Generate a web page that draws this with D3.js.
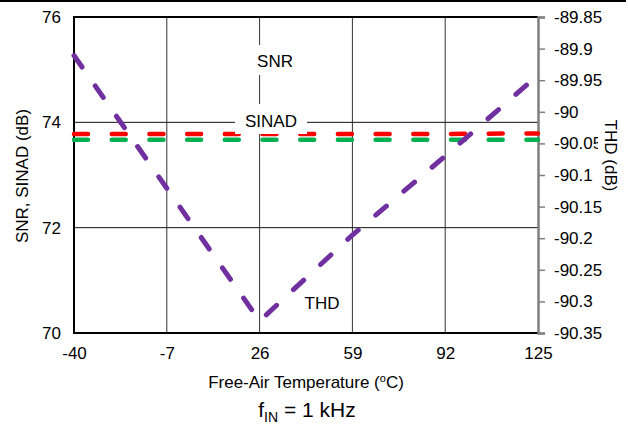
<!DOCTYPE html>
<html><head><meta charset="utf-8">
<script src="https://cdn.jsdelivr.net/npm/d3@7"></script>
<style>body{margin:0;background:#fff}svg{display:block;font-family:"Liberation Sans",Arial,sans-serif}</style>
</head><body><svg id="c" width="628" height="424"></svg>
<script>
const temps = [-40, -7, 26, 59, 92, 125];
const snr = [73.78, 73.78, 73.78, 73.78, 73.78, 73.79];
const sinad = [73.67, 73.67, 73.67, 73.67, 73.67, 73.67];
const thd = [-89.911, -90.121, -90.331, -90.195, -90.07, -89.942];
const leftTicks = [70, 72, 74, 76];
const rightTicks = [-89.85, -89.9, -89.95, -90, -90.05, -90.1, -90.15, -90.2, -90.25, -90.3, -90.35];
const rightTickLabels = ["-89.85","-89.9","-89.95","-90","-90.05","-90.1","-90.15","-90.2","-90.25","-90.3","-90.35"];
const xTickLabels = ["-40", "-7", "26", "59", "92", "125"];

const svg = d3.select("#c");
const FF = "Liberation Sans, Arial, sans-serif";
const L = 74, R = 538, T = 17, B = 333;
const x = d3.scaleLinear().domain([-40, 125]).range([L, R]);
const yL = d3.scaleLinear().domain([70, 76]).range([B, T]);
const yR = d3.scaleLinear().domain([-90.35, -89.85]).range([B, T]);

// top frame line
svg.append("line").attr("x1",0).attr("x2",626).attr("y1",1).attr("y2",1).attr("stroke","#000").attr("stroke-width",2);

// gridlines
const g = svg.append("g");
temps.slice(1,-1).forEach(t => g.append("line").attr("x1",x(t)).attr("x2",x(t)).attr("y1",T).attr("y2",B).attr("stroke","#333").attr("stroke-width",1));
leftTicks.slice(1,-1).forEach(v => g.append("line").attr("x1",L).attr("x2",R).attr("y1",yL(v)).attr("y2",yL(v)).attr("stroke","#111").attr("stroke-width",1));

// SNR label box
svg.append("rect").attr("x",x(26)-10).attr("y",45).attr("width",52).attr("height",30).attr("fill","#fff");
svg.append("text").attr("x",275).attr("y",67).attr("text-anchor","middle").attr("font-size",17).text("SNR");

// axes frame
svg.append("line").attr("x1",L).attr("x2",R).attr("y1",T).attr("y2",T).attr("stroke","#000").attr("stroke-width",2);
svg.append("line").attr("x1",L).attr("x2",R).attr("y1",B).attr("y2",B).attr("stroke","#000").attr("stroke-width",2);
svg.append("line").attr("x1",L).attr("x2",L).attr("y1",T-1).attr("y2",B+1).attr("stroke","#000").attr("stroke-width",2);

// right axis
const rAxis = d3.axisRight(yR).tickValues(rightTicks).tickSize(7).tickFormat((d,i)=>rightTickLabels[i]);
const ra = svg.append("g").attr("transform",`translate(${R},0)`).call(rAxis);
ra.select(".domain").attr("stroke","#7f7f7f").attr("stroke-width",2.5);
ra.selectAll(".tick line").attr("stroke","#7f7f7f").attr("stroke-width",1.5);
ra.selectAll(".tick text").attr("x",16).attr("fill","#000").attr("font-size",17).attr("font-family",FF);

// left axis labels
const lAxis = d3.axisLeft(yL).tickValues(leftTicks).tickSize(0).tickFormat(d=>String(d));
const la = svg.append("g").attr("transform",`translate(${L},0)`).call(lAxis);
la.select(".domain").remove();
la.selectAll(".tick text").attr("x",-13).attr("fill","#000").attr("font-size",17).attr("font-family",FF);

// bottom axis labels
const bAxis = d3.axisBottom(x).tickValues(temps).tickSize(0).tickFormat((d,i)=>xTickLabels[i]);
const ba = svg.append("g").attr("transform",`translate(0,${B})`).call(bAxis);
ba.select(".domain").remove();
ba.selectAll(".tick text").attr("y",14).attr("fill","#000").attr("font-size",17).attr("font-family",FF);

// lines
const lineL = d3.line().x((d,i)=>x(temps[i])).y(d=>yL(d));
const lineR = d3.line().x((d,i)=>x(temps[i])).y(d=>yR(d));
svg.append("path").attr("d",lineL(sinad)).attr("fill","none").attr("stroke","#00b050").attr("stroke-width",4.5).attr("stroke-linecap","round").attr("stroke-dasharray","14,23.7");
svg.append("path").attr("d",lineL(snr)).attr("fill","none").attr("stroke","#ff0000").attr("stroke-width",4.5).attr("stroke-linecap","round").attr("stroke-dasharray","14,23.7");
svg.append("path").attr("d",lineR(thd)).attr("fill","none").attr("stroke","#7030a0").attr("stroke-width",5).attr("stroke-linecap","round").attr("stroke-linejoin","round").attr("stroke-dasharray","14,23");

// SINAD label box (covers grid line and top of red line)
svg.append("rect").attr("x",235).attr("y",104).attr("width",72).attr("height",30).attr("fill","#fff");
svg.append("text").attr("x",271).attr("y",127).attr("text-anchor","middle").attr("font-size",17).text("SINAD");

// THD label
svg.append("text").attr("x",322).attr("y",309).attr("text-anchor","middle").attr("font-size",17).text("THD");

// axis titles
svg.append("text").attr("transform","translate(28,176) rotate(-90)").attr("text-anchor","middle").attr("font-size",17).text("SNR, SINAD (dB)");
svg.append("rect").attr("x",598).attr("y",112).attr("width",28).attr("height",86).attr("fill","#fff");
svg.append("text").attr("transform","translate(605,155.5) rotate(90)").attr("text-anchor","middle").attr("font-size",17).text("THD (dB)");

const xt = svg.append("text").attr("x",306).attr("y",388).attr("text-anchor","middle").attr("font-size",17);
xt.append("tspan").text("Free-Air Temperature (");
xt.append("tspan").attr("dy",-6).attr("font-size",11).text("o");
xt.append("tspan").attr("dy",6).text("C)");

const ft = svg.append("text").attr("x",307).attr("y",417).attr("text-anchor","middle").attr("font-size",21);
ft.append("tspan").text("f");
ft.append("tspan").attr("dy",5).attr("font-size",14).text("IN");
ft.append("tspan").attr("dy",-5).text(" = 1 kHz");
</script></body></html>
